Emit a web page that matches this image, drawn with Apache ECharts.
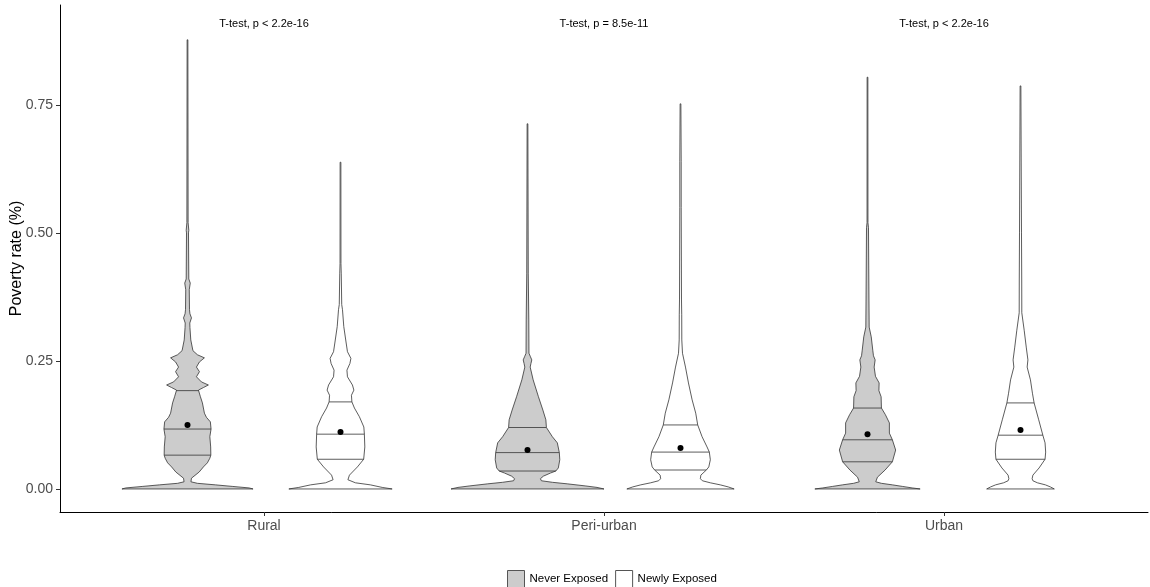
<!DOCTYPE html>
<html>
<head>
<meta charset="utf-8">
<script src="https://cdn.jsdelivr.net/npm/echarts@6/dist/echarts.min.js"></script>
<style>
html,body{margin:0;padding:0;background:#fff;}
#chart{width:1150px;height:587px;}
</style>
</head>
<body>
<div id="chart"></div>
<script>
// ---------- data ----------
const categories = ['Rural', 'Peri-urban', 'Urban'];
const groups = ['Never Exposed', 'Newly Exposed'];
const yTicks = [0, 0.25, 0.5, 0.75];
const pLabels = ['T-test, p < 2.2e-16', 'T-test, p = 8.5e-11', 'T-test, p < 2.2e-16'];
const pLabelY = 0.908;

// density profiles: [poverty rate, relative density (1 = widest violin)]
const ruralNever = [[0,0.857],[0.002,0.805],[0.005,0.584],[0.008,0.364],[0.011,0.130],[0.014,0.045],[0.021,0.052],[0.033,0.152],[0.043,0.208],[0.051,0.260],[0.060,0.292],[0.066,0.305],[0.082,0.303],[0.102,0.292],[0.117,0.308],[0.131,0.299],[0.140,0.247],[0.148,0.221],[0.168,0.195],[0.180,0.169],[0.193,0.143],[0.198,0.208],[0.203,0.273],[0.209,0.182],[0.219,0.117],[0.229,0.156],[0.238,0.117],[0.248,0.156],[0.256,0.221],[0.262,0.130],[0.270,0.071],[0.291,0.043],[0.315,0.032],[0.324,0.030],[0.334,0.052],[0.342,0.032],[0.350,0.026],[0.389,0.023],[0.402,0.036],[0.410,0.017],[0.500,0.013],[0.505,0.017],[0.520,0.008],[0.877,0.005]];
const ruralNewly = [[0,0.675],[0.003,0.545],[0.008,0.390],[0.012,0.195],[0.018,0.097],[0.027,0.117],[0.043,0.221],[0.058,0.303],[0.082,0.318],[0.107,0.312],[0.121,0.305],[0.141,0.247],[0.158,0.182],[0.170,0.149],[0.183,0.143],[0.193,0.175],[0.203,0.156],[0.219,0.091],[0.232,0.084],[0.245,0.123],[0.255,0.136],[0.268,0.091],[0.285,0.074],[0.317,0.043],[0.350,0.026],[0.360,0.016],[0.420,0.010],[0.440,0.006],[0.638,0.005]];
const periNever = [[0,1.0],[0.003,0.909],[0.006,0.753],[0.010,0.519],[0.013,0.325],[0.016,0.182],[0.020,0.169],[0.025,0.208],[0.031,0.299],[0.035,0.370],[0.041,0.403],[0.057,0.422],[0.071,0.416],[0.090,0.390],[0.102,0.325],[0.120,0.247],[0.135,0.240],[0.154,0.201],[0.180,0.143],[0.213,0.074],[0.238,0.035],[0.245,0.045],[0.252,0.056],[0.258,0.039],[0.265,0.019],[0.330,0.017],[0.420,0.010],[0.713,0.005]];
const periNewly = [[0,0.701],[0.004,0.623],[0.008,0.519],[0.012,0.390],[0.016,0.286],[0.020,0.260],[0.027,0.266],[0.037,0.338],[0.043,0.370],[0.057,0.390],[0.072,0.377],[0.082,0.347],[0.102,0.282],[0.125,0.225],[0.148,0.199],[0.174,0.152],[0.207,0.104],[0.238,0.065],[0.265,0.026],[0.291,0.017],[0.340,0.016],[0.369,0.013],[0.550,0.009],[0.640,0.009],[0.752,0.005]];
const urbanNever = [[0,0.688],[0.002,0.584],[0.005,0.455],[0.008,0.325],[0.011,0.182],[0.014,0.108],[0.023,0.130],[0.037,0.230],[0.053,0.325],[0.076,0.368],[0.096,0.325],[0.109,0.286],[0.129,0.286],[0.145,0.234],[0.158,0.182],[0.180,0.178],[0.192,0.149],[0.207,0.152],[0.220,0.104],[0.238,0.087],[0.252,0.100],[0.260,0.078],[0.271,0.069],[0.297,0.049],[0.316,0.022],[0.369,0.019],[0.510,0.013],[0.520,0.006],[0.804,0.005]];
const urbanNewly = [[0,0.442],[0.004,0.390],[0.008,0.325],[0.012,0.221],[0.016,0.162],[0.020,0.152],[0.027,0.162],[0.041,0.243],[0.058,0.321],[0.072,0.329],[0.090,0.321],[0.105,0.292],[0.135,0.238],[0.168,0.178],[0.187,0.156],[0.213,0.130],[0.238,0.087],[0.252,0.097],[0.277,0.075],[0.310,0.048],[0.344,0.017],[0.408,0.016],[0.500,0.013],[0.787,0.005]];

// quartiles and means per category (Rural, Peri-urban, Urban)
const neverQ25 = [0.066, 0.035, 0.053];
const neverMedian = [0.117, 0.071, 0.096];
const neverQ75 = [0.192, 0.120, 0.158];
const neverMean = [0.125, 0.076, 0.107];
const newlyQ25 = [0.058, 0.037, 0.058];
const newlyMedian = [0.107, 0.072, 0.105];
const newlyQ75 = [0.170, 0.125, 0.168];
const newlyMean = [0.111, 0.080, 0.115];

// ---------- rendering ----------
const HALF = 0.225;   // max half-width of a violin in category units (dodge 0.9 / 2)
const OUTLINE = '#333333';

function interp(profile, v) {
  for (let k = 1; k < profile.length; k++) {
    if (v <= profile[k][0]) {
      const a = profile[k - 1], b = profile[k];
      const t = (v - a[0]) / (b[0] - a[0]);
      return a[1] + t * (b[1] - a[1]);
    }
  }
  return profile[profile.length - 1][1];
}

function makeRender(profiles, q25, med, q75, means, offset, fill) {
  return function (params, api) {
    const i = params.dataIndex;
    const prof = profiles[i];
    const cx = api.value(0) + offset;
    const pts = [];
    for (let k = 0; k < prof.length; k++) pts.push(api.coord([cx - prof[k][1] * HALF, prof[k][0]]));
    for (let k = prof.length - 1; k >= 0; k--) pts.push(api.coord([cx + prof[k][1] * HALF, prof[k][0]]));
    const children = [{
      type: 'polygon',
      shape: { points: pts },
      style: { fill: fill, stroke: OUTLINE, lineWidth: 0.8 }
    }];
    [q25[i], med[i], q75[i]].forEach(function (q) {
      const d = interp(prof, q);
      const p1 = api.coord([cx - d * HALF, q]);
      const p2 = api.coord([cx + d * HALF, q]);
      children.push({
        type: 'line',
        shape: { x1: p1[0], y1: p1[1], x2: p2[0], y2: p2[1] },
        style: { stroke: OUTLINE, lineWidth: 0.8 }
      });
    });
    const m = api.coord([cx, means[i]]);
    children.push({ type: 'circle', shape: { cx: m[0], cy: m[1], r: 3 }, style: { fill: '#000' } });
    return { type: 'group', children: children };
  };
}

const chart = echarts.init(document.getElementById('chart'), null, { renderer: 'canvas' });
const FONT = '"Liberation Sans", Arial, sans-serif';

const option = {
  animation: false,
  backgroundColor: '#ffffff',
  textStyle: { fontFamily: FONT },
  grid: { left: 60, right: 2, top: 5, bottom: 75, containLabel: false, outerBoundsMode: 'none' },
  legend: {
    left: 502, top: 565,
    itemWidth: 17, itemHeight: 17, itemGap: 7,
    selectedMode: false,
    textStyle: { fontSize: 11.5, color: '#000', fontFamily: FONT },
    data: [
      { name: groups[0], icon: 'rect', itemStyle: { color: '#CCCCCC', borderColor: '#555', borderWidth: 1 } },
      { name: groups[1], icon: 'rect', itemStyle: { color: '#FFFFFF', borderColor: '#555', borderWidth: 1 } }
    ]
  },
  xAxis: {
    type: 'value', min: 0.4, max: 3.6,
    splitLine: { show: false },
    axisLine: { show: true, onZero: false, lineStyle: { color: '#000', width: 1 } },
    axisTick: { show: true, length: 4, customValues: [1, 2, 3], lineStyle: { color: '#333' } },
    axisLabel: {
      customValues: [1, 2, 3], margin: 7,
      fontSize: 14, color: '#4D4D4D', fontFamily: FONT,
      formatter: function (v) { return categories[Math.round(v) - 1] || ''; }
    }
  },
  yAxis: {
    type: 'value', min: -0.045, max: 0.945,
    name: 'Poverty rate (%)', nameLocation: 'middle', nameGap: 35, nameMoveOverlap: false,
    nameTextStyle: { fontSize: 16, color: '#000', fontFamily: FONT },
    splitLine: { show: false },
    axisLine: { show: true, onZero: false, lineStyle: { color: '#000', width: 1 } },
    axisTick: { show: true, length: 4, customValues: yTicks, lineStyle: { color: '#333' } },
    axisLabel: {
      customValues: yTicks, margin: 7,
      fontSize: 14, color: '#4D4D4D', fontFamily: FONT,
      formatter: function (v) { return v.toFixed(2); }
    }
  },
  series: [
    {
      name: groups[0], type: 'custom', silent: true,
      itemStyle: { color: '#CCCCCC', borderColor: '#555' },
      renderItem: makeRender([ruralNever, periNever, urbanNever], neverQ25, neverMedian, neverQ75, neverMean, -HALF, '#CCCCCC'),
      data: categories.map(function (c, i) { return [i + 1, neverMean[i]]; })
    },
    {
      name: groups[1], type: 'custom', silent: true,
      itemStyle: { color: '#FFFFFF', borderColor: '#555' },
      renderItem: makeRender([ruralNewly, periNewly, urbanNewly], newlyQ25, newlyMedian, newlyQ75, newlyMean, HALF, '#FFFFFF'),
      data: categories.map(function (c, i) { return [i + 1, newlyMean[i]]; })
    },
    {
      name: 'labels', type: 'custom', silent: true,
      renderItem: function (params, api) {
        const p = api.coord([api.value(0), api.value(1)]);
        return {
          type: 'text',
          x: p[0], y: p[1],
          style: { text: pLabels[params.dataIndex], fill: '#000', fontSize: 11, fontFamily: FONT, align: 'center', verticalAlign: 'middle' }
        };
      },
      data: categories.map(function (c, i) { return [i + 1, pLabelY]; })
    }
  ]
};
chart.setOption(option);
</script>
</body>
</html>
